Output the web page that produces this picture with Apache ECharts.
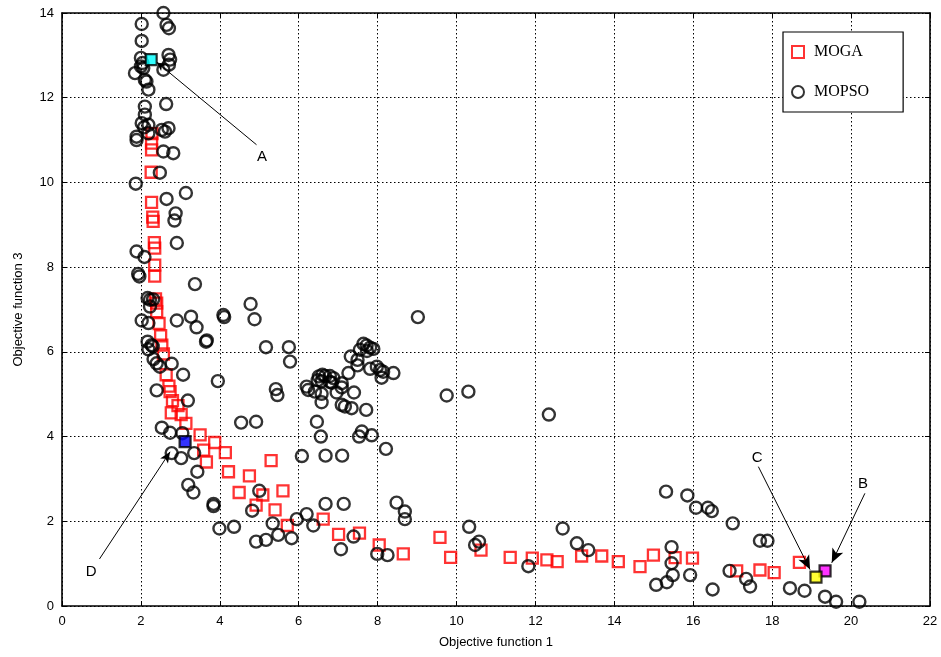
<!DOCTYPE html>
<html>
<head>
<meta charset="utf-8">
<style>
  html, body { margin: 0; padding: 0; background: #fff; }
  #chart { width: 941px; height: 657px; }
</style>
<script src="https://cdn.jsdelivr.net/npm/echarts@6/dist/echarts.min.js"></script>
</head>
<body>
<div id="chart"></div>
<script>
// Pareto fronts: objective function 1 (x) vs objective function 3 (y)
const xTicks = [0, 2, 4, 6, 8, 10, 12, 14, 16, 18, 20, 22];
const yTicks = [0, 2, 4, 6, 8, 10, 12, 14];

const mogaPoints = [
  [2.28,11.15],[2.27,10.93],[2.27,10.77],[2.26,10.24],[2.27,9.53],[2.30,9.18],[2.31,9.08],
  [2.34,8.58],[2.35,8.45],[2.35,8.05],[2.35,7.79],[2.37,7.25],[2.40,7.15],[2.40,6.95],
  [2.46,6.67],[2.50,6.38],[2.53,6.16],[2.57,5.95],[2.64,5.46],[2.71,5.19],[2.74,5.06],
  [2.80,4.85],[2.94,4.73],[2.77,4.56],[3.02,4.52],[3.14,4.31],
  [3.50,4.04],[3.59,3.68],[3.87,3.86],[4.14,3.62],[3.66,3.40],[4.22,3.17],[4.75,3.07],
  [5.30,3.43],[4.49,2.68],[5.09,2.62],[5.60,2.72],[4.92,2.38],[5.40,2.27],[5.71,1.90],
  [6.62,2.05],[7.01,1.69],[7.54,1.72],[8.04,1.44],[8.65,1.23],[9.58,1.62],[9.85,1.15],
  [10.62,1.32],[11.36,1.15],[11.92,1.13],[12.29,1.09],[12.55,1.05],[13.17,1.18],[13.68,1.18],
  [14.10,1.05],[14.65,0.93],[14.99,1.20],[15.54,1.14],[15.98,1.13],[17.10,0.83],[17.69,0.85],
  [18.05,0.79],[18.69,1.03]
];

const mopsoPoints = [
  [2.57,14.0],[2.02,13.74],[2.65,13.72],[2.71,13.64],[2.02,13.34],
  [2.00,12.94],[2.04,12.82],[2.06,12.70],[2.00,12.74],[1.85,12.58],[2.10,12.42],[2.14,12.38],[2.19,12.19],
  [2.70,13.01],[2.74,12.90],[2.71,12.78],[2.57,12.66],
  [2.64,11.85],[2.10,11.79],[2.10,11.60],[2.02,11.40],[2.19,11.36],[2.08,11.30],[2.53,11.24],[2.70,11.28],
  [2.61,11.20],[2.19,11.16],[1.89,11.08],[1.89,11.00],[2.57,10.73],[2.82,10.69],
  [2.48,10.23],[1.87,9.97],[3.14,9.75],[2.65,9.61],[2.88,9.27],[2.85,9.10],[2.91,8.57],[1.89,8.37],
  [2.09,8.24],[1.93,7.84],[1.96,7.78],[3.37,7.60],
  [2.17,7.27],[2.23,7.23],[2.31,7.24],[2.23,7.07],
  [2.02,6.74],[2.19,6.68],[2.91,6.74],[3.27,6.83],[3.41,6.58],[4.09,6.87],[4.11,6.82],[3.67,6.27],[3.65,6.24],
  [2.17,6.24],[2.27,6.16],[2.30,6.13],[2.19,6.06],[2.32,5.83],[2.40,5.73],[2.48,5.65],[2.78,5.72],
  [3.07,5.46],[3.95,5.31],[2.40,5.09],[3.19,4.85],
  [4.78,7.13],[4.88,6.77],[5.17,6.11],[5.75,6.11],[5.78,5.77],
  [4.54,4.33],[4.92,4.35],
  [2.53,4.21],[2.74,4.09],[3.05,4.08],[2.78,3.61],[3.02,3.49],[3.35,3.61],
  [3.43,3.17],[3.20,2.86],[3.33,2.68],[3.84,2.41],[3.84,2.36],[3.99,1.83],[4.36,1.87],
  [5.00,2.72],[4.82,2.25],[4.92,1.52],[5.17,1.56],[5.34,1.95],[5.48,1.68],[5.82,1.60],[5.95,2.05],
  [6.20,2.17],[6.37,1.90],
  [6.08,3.54],[6.68,3.55],[7.10,3.55],[6.68,2.41],[7.14,2.41],[7.07,1.34],[7.39,1.64],[7.99,1.23],
  [8.25,1.20],[8.48,2.44],[8.69,2.23],[8.69,2.05],
  [5.42,5.12],[5.46,4.98],[6.20,5.18],[6.24,5.10],[6.41,5.06],[6.58,5.01],[6.51,5.42],[6.60,5.46],
  [6.67,5.43],[6.79,5.43],[6.88,5.38],[6.48,5.33],[6.58,5.31],[6.79,5.29],[6.84,5.27],[7.09,5.26],
  [7.09,5.16],[6.96,5.04],[7.40,5.04],[6.58,4.81],[7.09,4.75],[7.17,4.71],[7.34,4.67],[7.71,4.63],
  [6.46,4.35],[6.56,4.00],[7.60,4.12],[7.53,4.00],[7.85,4.03],[8.21,3.71],
  [7.64,6.19],[7.72,6.15],[7.81,6.10],[7.89,6.07],[7.55,6.05],[7.73,6.02],[7.32,5.89],[7.49,5.81],
  [7.49,5.68],[7.26,5.50],[7.81,5.60],[7.98,5.65],[8.06,5.57],[8.14,5.53],[8.10,5.39],[8.40,5.50],
  [9.02,6.82],[9.75,4.97],[10.30,5.06],[12.34,4.52],
  [10.32,1.87],[10.47,1.44],[10.57,1.52],[11.82,0.94],[12.69,1.83],[13.05,1.48],[13.34,1.32],
  [15.31,2.70],[15.85,2.61],[16.07,2.32],[16.37,2.32],[16.47,2.24],[17.00,1.95],[17.69,1.54],[17.88,1.54],
  [15.45,1.39],[15.45,1.01],[15.48,0.73],[15.06,0.50],[15.33,0.56],[15.92,0.73],[16.49,0.39],[16.92,0.83],
  [17.34,0.64],[17.44,0.46],[18.45,0.42],[18.82,0.36],[19.34,0.22],[19.62,0.10],[20.21,0.10]
];

// Highlighted solutions
const pointA = [2.26, 12.90];
const pointB = [19.34, 0.83];
const pointC = [19.11, 0.68];
const pointD = [3.12, 3.88];

// Annotation label positions and arrow start points
const labelA = [5.07, 10.60], arrowA = [4.93, 10.89];
const labelB = [20.30, 2.88], arrowB = [20.35, 2.66];
const labelC = [17.62, 3.50], arrowC = [17.65, 3.29];
const labelD = [0.74, 0.80],  arrowD = [0.95, 1.11];
const arrowEndA = [2.40, 12.84];
const arrowEndB = [19.51, 1.02];
const arrowEndC = [18.96, 0.86];
const arrowEndD = [2.74, 3.64];

const chart = echarts.init(document.getElementById('chart'), null, { renderer: 'canvas' });

const gridLine = { show: true, lineStyle: { color: '#000', type: [1.5, 2.5], width: 1 } };
const tickFont = { color: '#000', fontSize: 13, fontFamily: 'Liberation Sans, Arial, sans-serif' };

function frameAxis(pos, isX, showLabel) {
  return {
    type: 'value', position: pos, min: 0, max: isX ? 22 : 14, interval: 2,
    axisLine: { show: true, onZero: false, lineStyle: { color: '#000', width: 1.6 } },
    axisTick: { show: true, inside: true, length: 5, lineStyle: { color: '#000', width: 1 } },
    axisLabel: Object.assign({ show: showLabel, margin: isX ? 9 : 8 }, tickFont),
    splitLine: showLabel ? gridLine : { show: false }
  };
}

const xMain = frameAxis('bottom', true, true);
xMain.name = 'Objective function 1';
xMain.nameLocation = 'middle';
xMain.nameGap = 30;
xMain.nameTextStyle = { color: '#000', fontSize: 13, fontFamily: 'Liberation Sans, Arial, sans-serif' };
xMain.axisLabel.formatter = v => xTicks.includes(v) ? String(v) : '';

const yMain = frameAxis('left', false, true);
yMain.name = 'Objective function 3';
yMain.nameLocation = 'middle';
yMain.nameGap = 37;
yMain.nameTextStyle = { color: '#000', fontSize: 13, fontFamily: 'Liberation Sans, Arial, sans-serif' };
yMain.axisLabel.formatter = v => yTicks.includes(v) ? String(v) : '';

const arrowLine = (from, to, size) => [
  { coord: from, symbol: 'none' },
  { coord: to, symbol: 'arrow', symbolSize: size }
];
const textMark = (name, at) => ({ name: name, coord: at });

const special = (name, pt, color) => ({
  name: name,
  type: 'scatter',
  xAxisIndex: 0, yAxisIndex: 0,
  symbol: 'rect', symbolSize: 11,
  itemStyle: { color: color, borderColor: '#000', borderWidth: 2.2 },
  data: [pt], z: 5, silent: true
});

chart.setOption({
  animation: false,
  backgroundColor: '#fff',
  grid: { left: 62, right: 11, top: 13, bottom: 51, containLabel: false },
  xAxis: [xMain, frameAxis('top', true, false)],
  yAxis: [yMain, frameAxis('right', false, false)],
  legend: {
    data: ['MOGA', 'MOPSO'],
    orient: 'vertical',
    left: 783, top: 32,
    padding: [12, 34, 12, 8],
    itemGap: 24,
    itemWidth: 12, itemHeight: 12,
    backgroundColor: '#fff',
    borderColor: '#000', borderWidth: 1.2,
    borderRadius: 0,
    textStyle: { color: '#000', fontSize: 16, fontFamily: 'Liberation Serif, Times New Roman, serif', padding: [0, 0, 0, 5] },
    selectedMode: false
  },
  series: [
    {
      name: 'MOGA', type: 'scatter', symbol: 'rect', symbolSize: 11,
      itemStyle: { color: 'rgba(255,255,255,0)', borderColor: '#ff0000', borderWidth: 2.3 },
      data: mogaPoints, z: 2, silent: true
    },
    {
      name: 'MOPSO', type: 'scatter', symbol: 'circle', symbolSize: 12,
      itemStyle: { color: 'rgba(255,255,255,0)', borderColor: '#000', borderWidth: 2.4 },
      data: mopsoPoints, z: 3, silent: true
    },
    special('A', pointA, '#00ffff'),
    special('B', pointB, '#ff00ff'),
    special('C', pointC, '#ffff00'),
    special('D', pointD, '#0000ff'),
    {
      name: 'annotations', type: 'scatter', data: [], silent: true, z: 6,
      markLine: {
        silent: true, animation: false,
        lineStyle: { color: '#000', width: 1, type: 'solid' },
        label: { show: false },
        data: [
          arrowLine(arrowA, arrowEndA, [6, 9]),
          arrowLine(arrowB, arrowEndB, [9, 14]),
          arrowLine(arrowC, arrowEndC, [9, 14]),
          arrowLine(arrowD, arrowEndD, [7, 11])
        ]
      },
      markPoint: {
        silent: true, animation: false,
        symbol: 'circle', symbolSize: 1,
        itemStyle: { color: 'rgba(0,0,0,0)' },
        label: {
          show: true, position: 'inside', formatter: '{b}',
          color: '#000', fontSize: 15, fontFamily: 'Liberation Sans, Arial, sans-serif'
        },
        data: [textMark('A', labelA), textMark('B', labelB), textMark('C', labelC), textMark('D', labelD)]
      }
    }
  ]
});
</script>
</body>
</html>
